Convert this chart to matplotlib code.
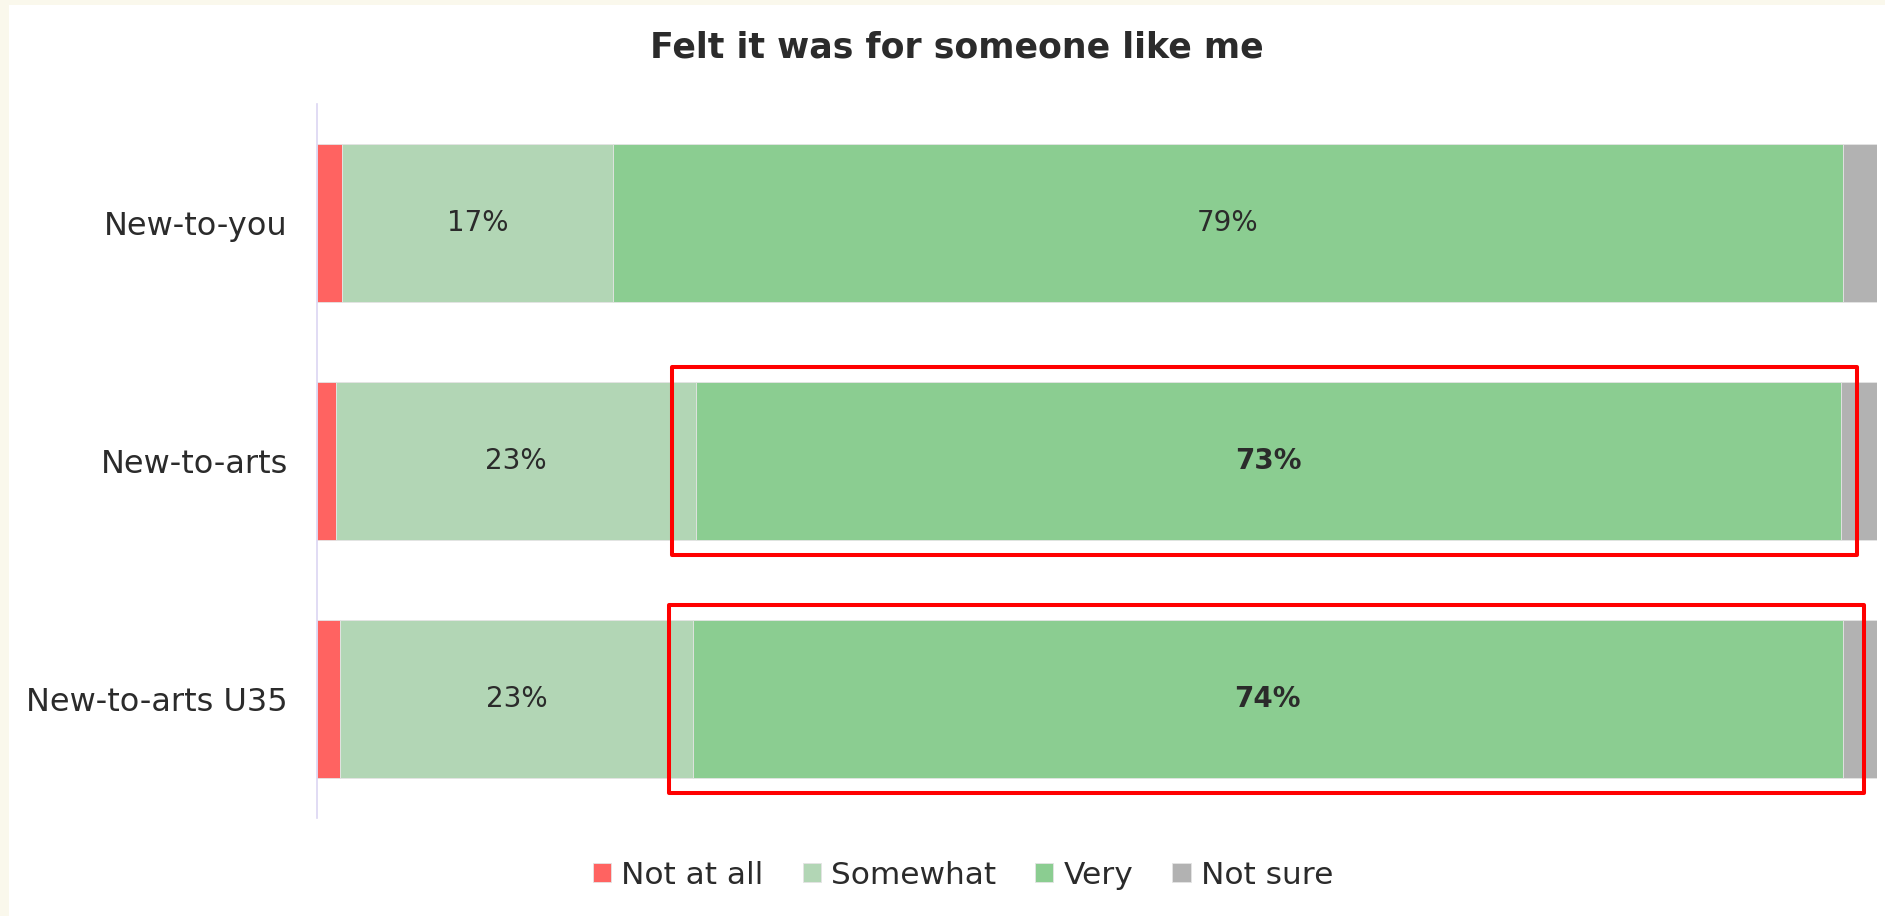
import numpy as np
import matplotlib
matplotlib.use('Agg')
from matplotlib import pyplot as plt
from matplotlib.patches import Rectangle

plt.rcParams['font.family'] = ['DejaVu Sans']

# data (percent)
groups = ['New-to-you', 'New-to-arts', 'New-to-arts U35']
not_at_all = [1.6, 1.2, 1.5]
somewhat = [17.4, 23.1, 22.6]
very = [78.8, 73.4, 73.7]
not_sure = [2.2, 2.3, 2.2]
highlight = [False, True, True]

series = ['Not at all', 'Somewhat', 'Very', 'Not sure']
colors = ['#ff6361', '#b2d6b5', '#8bcd91', '#b2b2b2']
txt = '#2b2b2b'

W, H = 1885, 916
fig = plt.figure(figsize=(W/100, H/100), dpi=100, facecolor='#faf8ec')
fig.patches.append(Rectangle((9/W, 0), 1, 1 - 5/H, transform=fig.transFigure,
                             facecolor='white', edgecolor='none', zorder=-10))

ax = fig.add_axes([317/W, 1 - 818/H, 1560/W, 714/H])
ax.set_facecolor('none')

y = np.arange(len(groups))
vals = np.array([not_at_all, somewhat, very, not_sure])
left = np.zeros(len(groups))
h = 0.66
for k in range(len(series)):
    ax.barh(y, vals[k], left=left, height=h, color=colors[k],
            edgecolor='#e4e4e4', linewidth=0.6, label=series[k])
    for i in range(len(groups)):
        if k in (1, 2):
            bold = (k == 2 and highlight[i])
            ax.text(left[i] + vals[k][i]/2, y[i], '%d%%' % round(vals[k][i]),
                    ha='center', va='center', fontsize=20, color=txt,
                    fontweight='bold' if bold else 'normal')
    left = left + vals[k]

# red outlines (hand drawn in the original) around highlighted "Very" segments
start = vals[0] + vals[1]
pad_r = [1.0, 1.0, 1.35]
for i in range(len(groups)):
    if highlight[i]:
        ax.add_patch(Rectangle((start[i] - 1.55, y[i] - h/2 - 0.064),
                               vals[2][i] + 1.55 + pad_r[i], h + 0.128,
                               fill=False, edgecolor='#ff0000', linewidth=2.9,
                               joinstyle='round', clip_on=False, zorder=5))

ax.set_xlim(0, 100)
ax.set_ylim(2.5, -0.5)
ax.set_yticks(y)
ax.set_yticklabels(groups, fontsize=23, color=txt)
ax.tick_params(axis='y', length=0, pad=21)
ax.set_xticks([])
for s in ['top', 'right', 'bottom']:
    ax.spines[s].set_visible(False)
ax.spines['left'].set_color('#dcd6f2')
ax.spines['left'].set_linewidth(1.2)

fig.text(957/W, 1 - 48/H, 'Felt it was for someone like me', ha='center',
         va='center', fontsize=25, fontweight='bold', color=txt)

fig.legend(loc='center', bbox_to_anchor=(963/W, 1 - 875/H), ncol=4,
           frameon=False, fontsize=22.5, handlelength=0.58, handleheight=0.55,
           handletextpad=0.33, columnspacing=1.25, labelcolor=txt)

fig.savefig('out.png', dpi=100, facecolor=fig.get_facecolor())
